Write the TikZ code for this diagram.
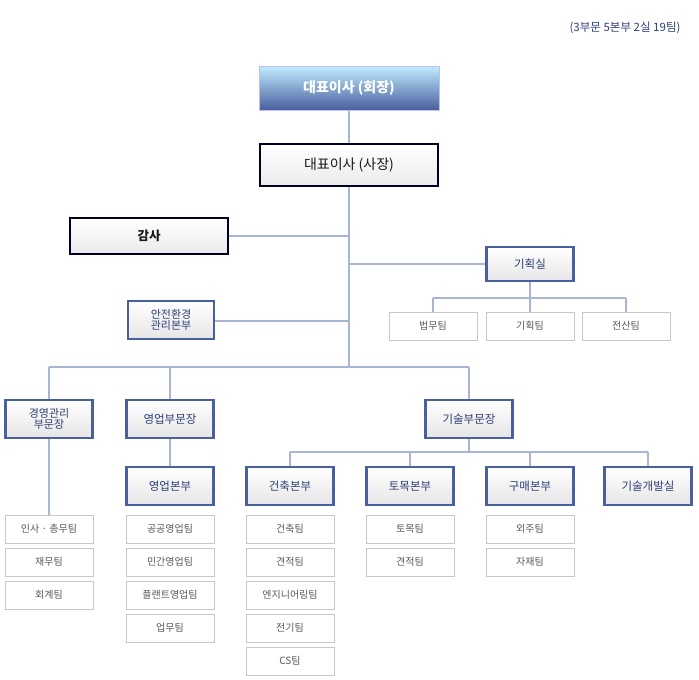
\documentclass[tikz,border=0pt]{standalone}
\usepackage{fontspec}
\setmainfont{Noto Sans CJK KR}
\definecolor{bb}{HTML}{4A5F9E}
\definecolor{bt}{HTML}{2E3F75}
\definecolor{ln}{HTML}{A8B6D4}
\begin{document}
\begin{tikzpicture}[x=1pt,y=-1pt,
  base/.style={minimum height=38pt,align=center,inner sep=1pt,font=\fontsize{11.5}{12}\selectfont,text=bt},
  bluebox/.style={base,draw=bb,line width=2.4pt,top color=white,bottom color=black!10},
  team/.style={minimum width=88pt,minimum height=28pt,draw=black!22,line width=1pt,fill=white,font=\fontsize{10}{11}\selectfont,text=black!65},
  conn/.style={draw=ln,line width=1.5pt}]
\useasboundingbox (0,0) rectangle (699,680);
\node[anchor=east,font=\fontsize{11.5}{12}\selectfont,text=bt] (title) at (684,28) {(3부문 5본부 2실 19팀)};
\coordinate (cA) at (349,110);
\coordinate (cB) at (349,367);
\draw[conn] (cA) -- (cB);
\draw[conn] (49,367) -- (469,367);
\draw[conn] (229,236) -- (349,236);
\draw[conn] (215,321) -- (349,321);
\draw[conn] (349,264) -- (486,264);
\draw[conn] (530,282) -- (530,312);
\draw[conn] (433,298) -- (626,298) (433,298) -- (433,312) (626,298) -- (626,312);
\draw[conn] (49,367) -- (49,400) (170,367) -- (170,400) (469,367) -- (469,400);
\draw[conn] (49,438) -- (49,515);
\draw[conn] (170,438) -- (170,467);
\draw[conn] (469,438) -- (469,452);
\draw[conn] (290,452) -- (648,452);
\foreach \x in {290,410,530,648} \draw[conn] (\x,452) -- (\x,467);
\node[minimum width=180pt,minimum height=44pt,draw=blue!25,line width=1pt,top color=blue!30!cyan!25!white,bottom color=bb,text=white,font=\bfseries\fontsize{14}{15}\selectfont] (ceo) at (349,88) {대표이사 (회장)};
\node[minimum width=178pt,minimum height=42pt,draw=black!85!blue,line width=2.4pt,top color=white,bottom color=black!8,font=\fontsize{14}{15}\selectfont,text=black!90] (pres) at (349,165) {대표이사 (사장)};
\node[minimum width=158pt,minimum height=36pt,draw=black!85!blue,line width=2.4pt,top color=white,bottom color=black!8,font=\bfseries\fontsize{12.5}{13}\selectfont,text=black!90] (audit) at (149,236) {감사};
\node[bluebox,minimum width=87pt,minimum height=34pt] (plan) at (530,264) {기획실};
\node[team] (t1) at (433,326) {법무팀};
\node[team] (t2) at (530,326) {기획팀};
\node[team] (t3) at (626,326) {전산팀};
\node[bluebox,minimum width=86pt,font=\fontsize{11}{11.5}\selectfont] (safe) at (171,320) {안전환경\\관리본부};
\node[bluebox,minimum width=87pt,font=\fontsize{11}{11.5}\selectfont] (mg) at (49,419) {경영관리\\부문장};
\node[bluebox,minimum width=87pt] (sl) at (170,419) {영업부문장};
\node[bluebox,minimum width=87pt] (tc) at (469,419) {기술부문장};
\node[bluebox,minimum width=87pt] (slh) at (170,486) {영업본부};
\node[bluebox,minimum width=87pt] (ar) at (290,486) {건축본부};
\node[bluebox,minimum width=87pt] (cv) at (410,486) {토목본부};
\node[bluebox,minimum width=87pt] (pu) at (530,486) {구매본부};
\node[bluebox,minimum width=87pt] (rd) at (648,486) {기술개발실};
\node[team] (m1) at (49,529) {인사 · 총무팀};
\node[team] (m2) at (49,562) {재무팀};
\node[team] (m3) at (49,595) {회계팀};
\node[team] (s1) at (170,529) {공공영업팀};
\node[team] (s2) at (170,562) {민간영업팀};
\node[team] (s3) at (170,595) {플랜트영업팀};
\node[team] (s4) at (170,628) {업무팀};
\node[team] (a1) at (290,529) {건축팀};
\node[team] (a2) at (290,562) {견적팀};
\node[team] (a3) at (290,595) {엔지니어링팀};
\node[team] (a4) at (290,628) {전기팀};
\node[team] (a5) at (290,661) {CS팀};
\node[team] (c1) at (410,529) {토목팀};
\node[team] (c2) at (410,562) {견적팀};
\node[team] (p1) at (530,529) {외주팀};
\node[team] (p2) at (530,562) {자재팀};
\end{tikzpicture}
\end{document}
